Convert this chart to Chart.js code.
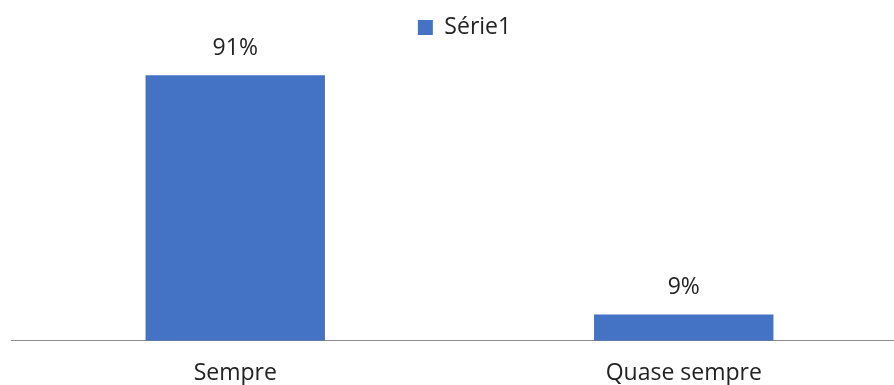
<!DOCTYPE html>
<html>
<head>
<meta charset="utf-8">
<script src="https://cdn.jsdelivr.net/npm/chart.js@4"></script>
<style>
  html, body { margin: 0; padding: 0; background: #fff; overflow: hidden; }
  #wrap { width: 920px; height: 385px; }
</style>
</head>
<body>
<div id="wrap"><canvas id="chart" width="920" height="385"></canvas></div>
<script>
// Chart data
const categories = ['Sempre', 'Quase sempre'];
const seriesName = 'Série1';
const values = [91, 9];
const valueLabels = ['91%', '9%'];

const FONT = '"Open Sans", "Noto Sans", sans-serif';
const TEXT = '#222';

// Draw value labels above bars
const barLabels = {
    id: 'barLabels',
    afterDatasetsDraw(chart) {
        const ctx = chart.ctx;
        const meta = chart.getDatasetMeta(0);
        ctx.save();
        ctx.font = '23px ' + FONT;
        ctx.fillStyle = TEXT;
        ctx.textAlign = 'center';
        ctx.textBaseline = 'middle';
        meta.data.forEach((bar, i) => {
            ctx.fillText(valueLabels[i], bar.x, bar.y - 27);
        });
        ctx.restore();
    }
};

// nudge legend a bit to the right (plot area runs past the window edge)
const legendShift = {
    id: 'legendShift',
    afterLayout(chart) {
        chart.legend.left += 5;
        chart.legend.right += 5;
    }
};

const ctx = document.getElementById('chart').getContext('2d');
new Chart(ctx, {
    type: 'bar',
    data: {
        labels: categories,
        datasets: [{
            label: seriesName,
            data: values,
            backgroundColor: '#4472C4',
            borderWidth: 0,
            barPercentage: 0.4,
            categoryPercentage: 1
        }]
    },
    options: {
        responsive: false,
        animation: false,
        layout: { padding: { left: 11, right: 12, top: 5, bottom: -21 } },
        scales: {
            x: {
                grid: { display: false, drawTicks: false },
                border: { display: true, color: '#8c8c8c', width: 1 },
                ticks: {
                    color: TEXT,
                    padding: 20,
                    maxRotation: 0,
                    font: { family: FONT, size: 23, lineHeight: 1.1 }
                }
            },
            y: {
                display: false,
                min: 0,
                max: 100
            }
        },
        plugins: {
            legend: {
                position: 'top',
                labels: {
                    boxWidth: 15,
                    boxHeight: 15,
                    padding: 11,
                    color: TEXT,
                    font: { family: FONT, size: 23 }
                }
            },
            tooltip: { enabled: false }
        }
    },
    plugins: [barLabels, legendShift]
});
</script>
</body>
</html>
